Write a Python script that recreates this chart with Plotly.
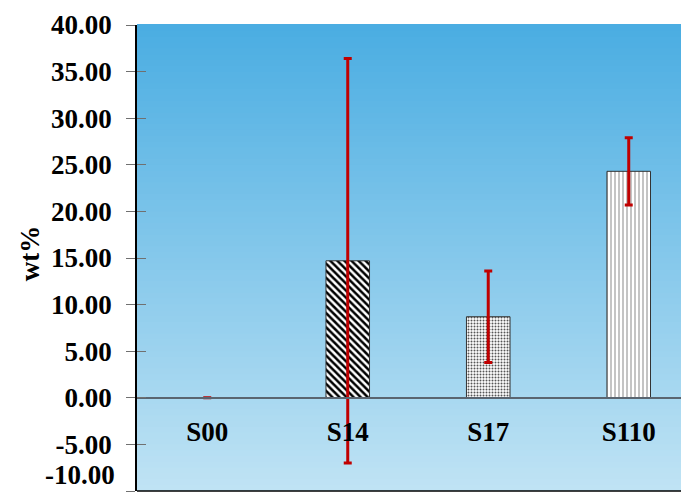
import plotly.graph_objects as go

# ---- data ----
categories = ["S00", "S14", "S17", "S110"]
values = [0.0, 14.7, 8.7, 24.3]
errors = [0.0, 21.7, 4.9, 3.6]
y_tick_vals = [-10, -5, 0, 5, 10, 15, 20, 25, 30, 35, 40]
y_tick_text = ["-10.00", "-5.00", "0.00", "5.00", "10.00", "15.00",
               "20.00", "25.00", "30.00", "35.00", "40.00"]
y_title = "wt%"

# ---- styles ----
FONT = "Liberation Serif, Times New Roman, serif"
patterns = ["", "\\", ".", "|"]
pat_fg = ["black", "black", "#555555", "#8a8a8a"]
pat_size = [6, 5, 3, 4]
pat_sol = [0.3, 0.5, 0.35, 0.25]

# page body has an 8px margin on every side; keep the figure inside the window
OFF = 8
W, H = 689 - 2 * OFF, 500 - 2 * OFF
ML, MT, MB, MR = 137 - OFF, 25 - OFF, 1, 0
YMIN, YMAX = -10, 40
X_RANGE = [-0.5, 3.372]
zero_frac = (0 - YMIN) / (YMAX - YMIN)
TICK_FONT = dict(family=FONT, size=27, color="black", weight="bold")

fig = go.Figure()
fig.add_trace(go.Bar(
    x=categories, y=values,
    width=0.31,
    marker=dict(color="white",
                line=dict(color="#333333", width=1),
                pattern=dict(shape=patterns, fgcolor=pat_fg, bgcolor="white",
                             size=pat_size, solidity=pat_sol, fillmode="replace")),
    error_y=dict(type="data", array=errors, visible=True,
                 color="#C00000", thickness=3, width=4),
    showlegend=False,
))

# gradient background
top = (74, 173, 226)
bot = (192, 227, 244)
N = 80
shapes = []
for i in range(N):
    t0 = i / N
    t1 = (i + 1) / N
    f = (i + 0.5) / N
    c = tuple(round(bot[k] + (top[k] - bot[k]) * f) for k in range(3))
    shapes.append(dict(type="rect", xref="paper", yref="paper",
                       x0=0, x1=1, y0=t0, y1=t1 + 0.002,
                       fillcolor="rgb(%d,%d,%d)" % c, line=dict(width=0),
                       layer="below"))
# bottom border
shapes.append(dict(type="line", xref="paper", yref="paper", x0=0, x1=1,
                   y0=0, y1=0, line=dict(color="black", width=1.5)))

fig.update_layout(
    width=W, height=H,
    margin=dict(l=ML, r=MR, t=MT, b=MB, autoexpand=False),
    paper_bgcolor="white",
    plot_bgcolor="rgba(0,0,0,0)",
    shapes=shapes,
    xaxis=dict(
        range=X_RANGE, anchor="free", position=zero_frac,
        showline=True, linecolor="#5a6570", linewidth=1.5,
        ticks="", showgrid=False, zeroline=False,
        tickfont=TICK_FONT,
        ticklabelstandoff=10,
    ),
    yaxis=dict(
        range=[YMIN, YMAX], tickvals=y_tick_vals, ticktext=y_tick_text,
        showline=True, linecolor="black", linewidth=1.5,
        ticks="outside", ticklen=9, tickcolor="#707070", tickwidth=1,
        showgrid=False, zeroline=False,
        tickfont=TICK_FONT,
        ticklabelstandoff=9,
    ),
    yaxis2=dict(
        matches="y", overlaying="y", anchor="x", side="left",
        range=[YMIN, YMAX], tickvals=y_tick_vals, showticklabels=False,
        ticks="inside", ticklen=9, tickcolor="#707070", tickwidth=1,
        showgrid=False, zeroline=False, showline=False,
    ),
    annotations=[
        dict(text=y_title, xref="paper", yref="paper", x=0, y=0.51,
             xanchor="center", yanchor="middle", xshift=-(137 - 30),
             textangle=-90, showarrow=False, font=TICK_FONT),
        # bottom tick label, kept fully inside the window
        dict(text=y_tick_text[0], xref="paper", yref="y", x=0, y=y_tick_vals[0],
             xanchor="right", yanchor="bottom", xshift=-20, yshift=-1,
             showarrow=False, font=TICK_FONT),
    ],
)
# invisible trace so the inner-tick axis is drawn
fig.add_trace(go.Scatter(x=[categories[0]], y=[0], yaxis="y2", mode="markers",
                         marker=dict(opacity=0), showlegend=False, hoverinfo="skip"))

fig.write_html("out.html")
